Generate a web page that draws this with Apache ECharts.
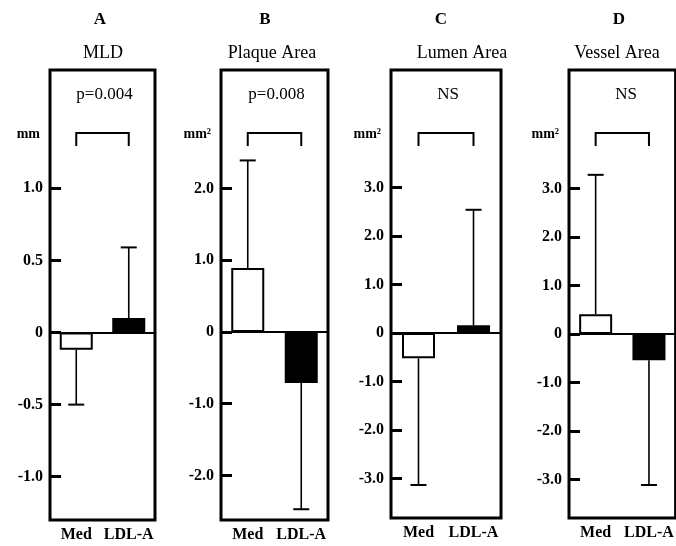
<!DOCTYPE html>
<html>
<head>
<meta charset="utf-8">
<script src="https://cdn.jsdelivr.net/npm/echarts@6/dist/echarts.min.js"></script>
<style>
  html, body { margin: 0; padding: 0; background: #fff; }
  #chart { width: 676px; height: 546px; }
</style>
</head>
<body>
<div id="chart"></div>
<script>
// data
const categories = ['Med', 'LDL-A'];
const panelLetters = ['A', 'B', 'C', 'D'];
const panelTitles = ['MLD', 'Plaque Area', 'Lumen Area', 'Vessel Area'];
const pTexts = ['p=0.004', 'p=0.008', 'NS', 'NS'];
const unitLabels = ['mm', 'mm²', 'mm²', 'mm²'];
// mean change per group (Med, LDL-A)
const meanValues = [
  [-0.12, 0.10],
  [0.89, -0.71],
  [-0.52, 0.16],
  [0.41, -0.54],
];
// end of the error bar per group
const errorEnds = [
  [-0.50, 0.59],
  [2.39, -2.47],
  [-3.13, 2.54],
  [3.28, -3.11],
];
const tickValues = [
  [-1, -0.5, 0, 0.5, 1],
  [-2, -1, 0, 1, 2],
  [-3, -2, -1, 0, 1, 2, 3],
  [-3, -2, -1, 0, 1, 2, 3],
];
const axisMin = [-1.3, -2.62, -3.81, -3.79];
const axisMax = [1.82, 3.65, 5.42, 5.44];

// layout
const gridLefts = [50, 221, 391, 569];
const gridWidths = [105, 107, 110, 110];
const gridHeights = [450, 450, 448, 448];
const gridTop = 70;
const letterX = [100, 265, 441, 619];
const titleX = [103, 272, 462, 617];

const font = "'Liberation Serif', 'DejaVu Serif', serif";

const grids = [], xAxes = [], yAxes = [], series = [], graphics = [];

panelLetters.forEach((letter, i) => {
  grids.push({
    left: gridLefts[i], top: gridTop, width: gridWidths[i], height: gridHeights[i],
    show: true, borderColor: '#000', borderWidth: 3, backgroundColor: 'transparent',
  });
  xAxes.push({
    type: 'category', gridIndex: i, data: categories,
    axisLine: {show: false}, axisTick: {show: false},
    axisLabel: {color: '#000', fontFamily: font, fontWeight: 'bold', fontSize: 16, margin: 7, interval: 0, hideOverlap: false},
  });
  yAxes.push({
    type: 'value', gridIndex: i, min: axisMin[i], max: axisMax[i],
    splitLine: {show: false},
    axisLine: {show: false},
    axisTick: {show: true, inside: true, length: 11, lineStyle: {color: '#000', width: 3}, customValues: tickValues[i]},
    axisLabel: {
      color: '#000', fontFamily: font, fontWeight: 'bold', fontSize: 16, margin: 7,
      customValues: tickValues[i],
      formatter: (v) => v === 0 ? '0' : v.toFixed(1),
    },
  });

  series.push({
    type: 'bar', xAxisIndex: i, yAxisIndex: i, barWidth: 33,
    data: meanValues[i].map((v, k) => ({
      value: v,
      itemStyle: k === 0
        ? {color: '#fff', borderColor: '#000', borderWidth: 2}
        : {color: '#000', borderColor: '#000', borderWidth: 2},
    })),
    markLine: {
      silent: true, symbol: 'none', label: {show: false},
      lineStyle: {color: '#000', width: 2, type: 'solid'},
      data: [{yAxis: 0}],
    },
    z: 3,
  });

  // error bars
  series.push({
    type: 'custom', xAxisIndex: i, yAxisIndex: i,
    data: meanValues[i].map((v, k) => [k, v, errorEnds[i][k]]),
    encode: {x: 0, y: 2},
    renderItem: (params, api) => {
      const p0 = api.coord([api.value(0), api.value(1)]);
      const p1 = api.coord([api.value(0), api.value(2)]);
      const style = {stroke: '#000', lineWidth: 1.6};
      return {
        type: 'group',
        children: [
          {type: 'line', shape: {x1: p0[0], y1: p0[1], x2: p1[0], y2: p1[1]}, style},
          {type: 'line', shape: {x1: p1[0] - 8, y1: p1[1], x2: p1[0] + 8, y2: p1[1]}, style: {stroke: '#000', lineWidth: 2}},
        ],
      };
    },
    z: 2,
  });

  // comparison bracket
  series.push({
    type: 'custom', xAxisIndex: i, yAxisIndex: i,
    data: [[0, 1]],
    renderItem: (params, api) => {
      const a = api.coord([0, 0]);
      const b = api.coord([1, 0]);
      const y = params.coordSys.y + 63;
      return {
        type: 'polyline',
        shape: {points: [[a[0], y + 13], [a[0], y], [b[0], y], [b[0], y + 13]]},
        style: {stroke: '#000', lineWidth: 2, fill: null},
      };
    },
  });

  const textBase = {fill: '#000', fontFamily: font, align: 'center', verticalAlign: 'middle'};
  graphics.push(
    {type: 'text', x: letterX[i], y: 20, style: {...textBase, text: letter, fontSize: 17, fontWeight: 'bold'}},
    {type: 'text', x: titleX[i], y: 53, style: {...textBase, text: panelTitles[i], fontSize: 18}},
    {type: 'text', x: gridLefts[i] + gridWidths[i] / 2 + 2, y: 95, style: {...textBase, text: pTexts[i], fontSize: 17}},
    {type: 'text', x: gridLefts[i] - 10, y: 134, style: {...textBase, align: 'right', text: unitLabels[i], fontSize: 14, fontWeight: 'bold'}},
  );
});

const myChart = echarts.init(document.getElementById('chart'));
myChart.setOption({
  backgroundColor: '#fff',
  animation: false,
  grid: grids,
  xAxis: xAxes,
  yAxis: yAxes,
  series: series,
  graphic: graphics,
});
</script>
</body>
</html>
